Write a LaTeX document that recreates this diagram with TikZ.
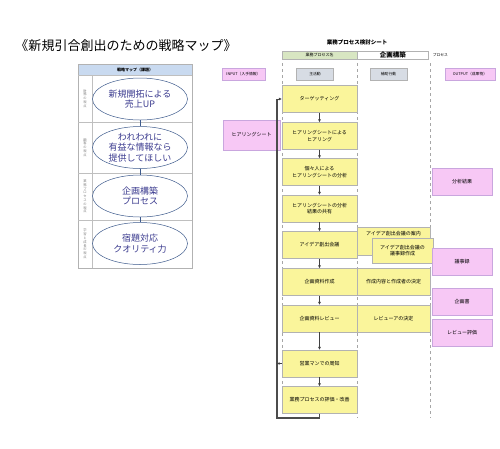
\documentclass[tikz,border=0pt]{standalone}
\usepackage{fontspec}
\newfontfamily\jp{Noto Sans CJK JP}
\usepackage{xcolor}
\usetikzlibrary{shapes.geometric}
\usetikzlibrary{arrows.meta}
\usetikzlibrary{positioning}

\definecolor{mainyellow}{HTML}{FAF59B}
\definecolor{outpink}{HTML}{F7C8F5}
\definecolor{pinkline}{HTML}{C9A6DE}
\definecolor{headgray}{HTML}{D7DCE4}
\definecolor{namegreen}{HTML}{D8E6C2}
\definecolor{mapblue}{HTML}{C9DAF0}
\definecolor{ellline}{HTML}{3D5A8C}
\definecolor{elltext}{HTML}{3B3B8F}

\begin{document}
\begin{tikzpicture}[x=1pt, y=-1pt,
    every node/.style={font=\jp, inner sep=0pt, align=center},
    mainbox/.style={rectangle, draw=gray!60, fill=mainyellow, minimum width=75pt,
      minimum height=27pt, font=\jp\fontsize{5}{6.5}\selectfont},
    subbox/.style={mainbox, minimum width=73pt},
    outbox/.style={rectangle, draw=pinkline, fill=outpink, minimum width=60pt,
      minimum height=27pt, font=\jp\fontsize{5}{6.5}\selectfont},
    headbox/.style={rectangle, draw=gray!60, fill=headgray, minimum height=12pt,
      font=\jp\fontsize{3.8}{4.5}\selectfont},
    flow/.style={draw=black!75, line width=0.9pt, -{Latex[length=3pt,width=3pt]}},
    loopline/.style={draw=black!70, line width=1.1pt},
    lane/.style={draw=gray!70, dashed, line width=0.4pt},
    mapell/.style={ellipse, draw=ellline, line width=0.5pt, fill=white,
      minimum width=95pt, minimum height=42pt, text=elltext,
      font=\jp\fontsize{9}{10.5}\selectfont},
    mapline/.style={draw=ellline, line width=0.6pt},
    viewpoint/.style={text=gray, font=\jp\fontsize{3.3}{3.8}\selectfont},
  ]
  \useasboundingbox (0,0) rectangle (500,448);

  % Title
  \node[font=\jp\fontsize{13}{14}\selectfont] (title) at (126,46)
    {《新規引合創出のための戦略マップ》};

  % Strategy map frame
  \fill[mapblue] (78,64) rectangle (192,75);
  \draw[gray!60] (78,64) rectangle (192,268);
  \foreach \y in {75,122,173,220}
    \draw[gray!50] (78,\y) -- (192,\y);
  \draw[gray!50] (92,75) -- (92,268);
  \node[font=\jp\bfseries\fontsize{4}{5}\selectfont] (maphead) at (135,69.5) {戦略マップ（課題）};

  % Viewpoints
  \node[viewpoint] (vp1) at (85,98.5) {財\\務\\の\\視\\点};
  \node[viewpoint] (vp2) at (85,147.5) {顧\\客\\の\\視\\点};
  \node[viewpoint] (vp3) at (85,196.5) {業\\務\\プ\\ロ\\セ\\ス\\の\\視\\点};
  \node[viewpoint] (vp4) at (85,244) {学\\習\\と\\成\\長\\の\\視\\点};

  % Goals
  \node[mapell] (goal1) at (140,99) {新規開拓による\\売上UP};
  \node[mapell] (goal2) at (140,147.5) {われわれに\\有益な情報なら\\提供してほしい};
  \node[mapell] (goal3) at (140,196) {企画構築\\プロセス};
  \node[mapell] (goal4) at (140,243.5) {宿題対応\\クオリティ力};
  \draw[mapline] (goal1) -- (goal2);
  \draw[mapline] (goal2) -- (goal3);
  \draw[mapline] (goal3) -- (goal4);

  % Sheet header
  \node[font=\jp\bfseries\fontsize{5.5}{6}\selectfont] (sheet) at (357,42) {業務プロセス検討シート};
  \node[rectangle, draw=gray!60, fill=namegreen, minimum width=75pt, minimum height=8pt,
    font=\jp\fontsize{4}{5}\selectfont] (namecell) at (319.5,55) {業務プロセス名};
  \node[rectangle, draw=gray!60, fill=white, minimum width=71pt, minimum height=8pt,
    font=\jp\bfseries\fontsize{6.5}{7}\selectfont, right=0pt of namecell] (procname) {企画構築};
  \node[font=\jp\fontsize{3.8}{4.5}\selectfont, right=4pt of procname] (proclabel) {プロセス};

  % Lanes
  \foreach \x in {282,357,430}
    \draw[lane] (\x,63) -- (\x,418);

  % Lane headers
  \node[headbox, fill=outpink, draw=pinkline, minimum width=43pt] (hin) at (243.5,74) {INPUT（入手情報）};
  \node[headbox, minimum width=37pt] (hmain) at (315,74) {主活動};
  \node[headbox, minimum width=37pt] (hsub) at (388.5,74) {補助行動};
  \node[headbox, fill=outpink, draw=pinkline, minimum width=50pt] (hout) at (470,74) {OUTPUT（成果物）};

  % Main activities
  \node[mainbox] (target) at (319.5,99) {ターゲッティング};
  \node[mainbox] (hearing) at (319.5,136) {ヒアリングシートによる\\ヒアリング};
  \node[mainbox] (analysis) at (319.5,172) {個々人による\\ヒアリングシートの分析};
  \node[mainbox] (share) at (319.5,208.5) {ヒアリングシートの分析\\結果の共有};
  \node[mainbox] (meeting) at (319.5,245) {アイデア創出会議};
  \node[mainbox] (document) at (319.5,282) {企画資料作成};
  \node[mainbox] (review) at (319.5,318.5) {企画資料レビュー};
  \node[mainbox] (notice) at (319.5,363.5) {営業マンでの周知};
  \node[mainbox] (evaluate) at (319.5,400) {業務プロセスの評価・改善};

  % Support activities
  \node[subbox, minimum height=28pt] (invite) at (393.5,241) {};
  \node[font=\jp\fontsize{5}{6.5}\selectfont, below=4pt of invite.north] (invitetext)
    {アイデア創出会議の案内};
  \node[subbox, minimum width=61pt, minimum height=25pt] (minutes) at (402.5,250.5)
    {アイデア創出会議の\\議事録作成};
  \node[subbox] (decide) at (393.5,282) {作成内容と作成者の決定};
  \node[subbox] (reviewer) at (393.5,318.5) {レビューアの決定};

  % Inputs
  \node[outbox, minimum width=57pt, minimum height=30pt] (sheetin) at (251.5,135) {ヒアリングシート};

  % Outputs
  \node[outbox] (result) at (462,181.5) {分析結果};
  \node[outbox] (minutesout) at (462,261.5) {議事録};
  \node[outbox] (plan) at (462,301.5) {企画書};
  \node[outbox] (evaluation) at (462,332.5) {レビュー評価};

  % Flow
  \draw[flow] (target) -- (hearing);
  \draw[flow] (hearing) -- (analysis);
  \draw[flow] (analysis) -- (share);
  \draw[flow] (share) -- (meeting);
  \draw[flow] (meeting) -- (document);
  \draw[flow] (document) -- (review);
  \draw[flow] (review) -- (notice);
  \draw[flow] (notice) -- (evaluate);

  % Feedback loop
  \coordinate (loopA) at (319.5,418);
  \coordinate (loopB) at (277,418);
  \coordinate (loopC) at (277,99);
  \draw[loopline] (evaluate.south) -- (loopA) -- (loopB) -- (loopC);
  \draw[flow] (loopC) -- (target.west);
  \draw[draw=black!75, line width=0.6pt, -{Latex[length=2.5pt,width=2.5pt]}] (notice.west) -- (notice.west -| loopB);

\end{tikzpicture}
\end{document}
